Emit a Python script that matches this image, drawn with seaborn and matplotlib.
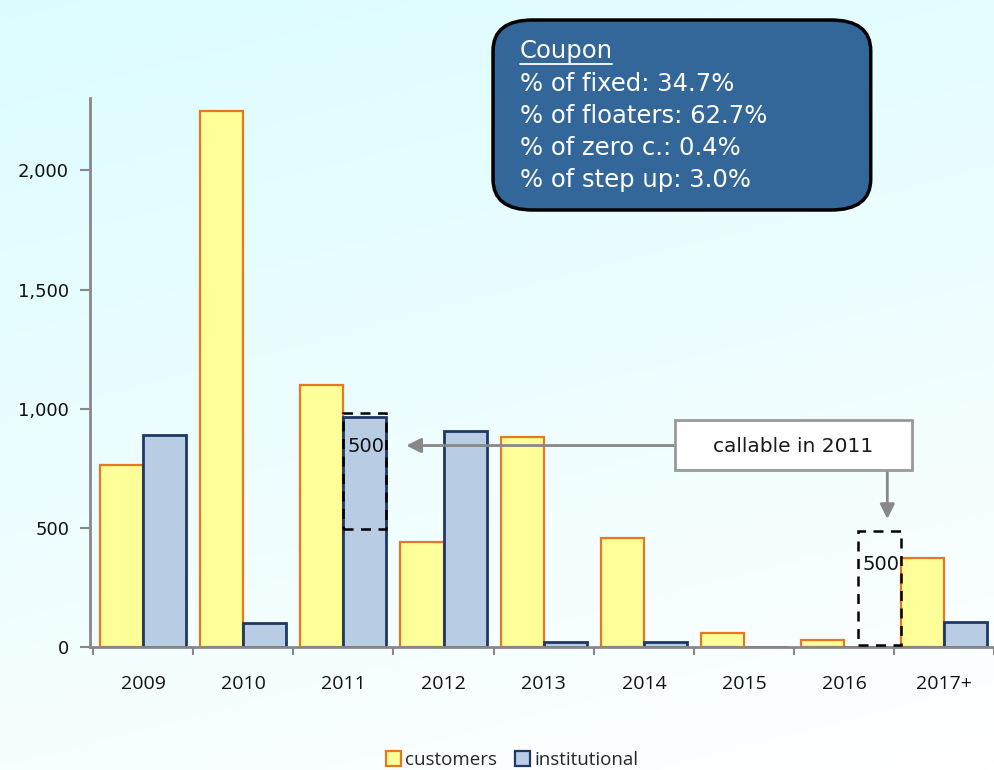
import numpy as np
import pandas as pd
import matplotlib.pyplot as plt
import seaborn as sns
from matplotlib.patches import FancyBboxPatch, Rectangle

years = ['2009', '2010', '2011', '2012', '2013', '2014', '2015', '2016', '2017+']
customers = [765, 2248, 1101, 441, 882, 458, 59, 29, 374]
institutional = [891, 101, 966, 908, 21, 21, 0, 0, 105]
coupon_lines = ['% of fixed: 34.7%', '% of floaters: 62.7%',
                '% of zero c.: 0.4%', '% of step up: 3.0%']

df = pd.DataFrame({
    'year': years * 2,
    'amount': customers + institutional,
    'type': ['customers'] * len(years) + ['institutional'] * len(years),
})

sns.set_style('white')
plt.rcParams['font.family'] = ['DejaVu Sans']

fig = plt.figure(figsize=(9.94, 7.7), dpi=100)

# light cyan -> white background gradient
bg = fig.add_axes([0, 0, 1, 1], zorder=-10)
yy, xx = np.mgrid[0:1:200j, 0:1:200j]
t = np.clip(0.75 * yy + 0.25 * (1 - xx), 0, 1)
top = np.array([0.86, 0.99, 1.0])
bot = np.array([1.0, 1.0, 1.0])
img = bot[None, None, :] * (1 - t[..., None]) + top[None, None, :] * t[..., None]
bg.imshow(img, origin='lower', aspect='auto', extent=[0, 1, 0, 1])
bg.axis('off')

ax = fig.add_axes([0.0905, 0.16, 0.91, 0.713])
ax.patch.set_alpha(0)
sns.barplot(data=df, x='year', y='amount', hue='type', ax=ax, width=0.86, saturation=1,
            palette={'customers': '#ffff99', 'institutional': '#b8cce4'},
            legend=False)
for bar, lab in zip(ax.patches, df['type']):
    if lab == 'customers':
        bar.set_edgecolor('#e8771f')
        bar.set_linewidth(1.6)
    else:
        bar.set_edgecolor('#1f3864')
        bar.set_linewidth(2.0)

ax.set_xlim(-0.53, len(years) - 0.53)
ax.set_ylim(0, 2305)
ax.set_yticks([0, 500, 1000, 1500, 2000])
ax.set_yticklabels(['0', '500', '1,000', '1,500', '2,000'], fontsize=13, color='#111111')
ax.set_xlabel('')
ax.set_ylabel('')
ax.set_xticks(range(len(years)))
ax.set_xticklabels(years, fontsize=14, family='Open Sans', color='#111111')
ax.tick_params(axis='x', which='major', length=0, pad=20)
ax.set_xticks(np.arange(-0.5, len(years)), minor=True)
ax.tick_params(axis='x', which='minor', bottom=True, length=6, width=1.5,
               color='#888888', direction='out')
ax.tick_params(axis='y', length=7, width=1.5, color='#888888', direction='out',
               left=True, pad=8)
for s in ['top', 'right']:
    ax.spines[s].set_visible(False)
for s in ['left', 'bottom']:
    ax.spines[s].set_color('#888888')
    ax.spines[s].set_linewidth(2)

# callable dashed boxes
ax.add_patch(Rectangle((2.0, 495), 0.43, 485, fill=False, ls=(0, (4, 3)), lw=1.8, ec='black', zorder=5))
ax.text(2.04, 840, '500', fontsize=14, va='center', ha='left', color='#111111', zorder=6)
ax.add_patch(Rectangle((7.14, 8), 0.43, 480, fill=False, ls=(0, (4, 3)), lw=1.8, ec='black', zorder=5))
ax.text(7.18, 345, '500', fontsize=14, va='center', ha='left', color='#111111', zorder=6)

# callout box + arrows
ax.annotate('', xy=(2.6, 845), xytext=(5.35, 845),
            arrowprops=dict(arrowstyle='-|>', color='#888888', lw=2, mutation_scale=22))
ax.annotate('', xy=(7.43, 525), xytext=(7.43, 745),
            arrowprops=dict(arrowstyle='-|>', color='#888888', lw=2, mutation_scale=22))
fig.patches.append(Rectangle((675 / 994, 1 - 470 / 770), 237 / 994, 50 / 770,
                             transform=fig.transFigure, fc='white', ec='#999999', lw=2, zorder=8))
fig.text(793 / 994, 1 - 446 / 770, 'callable in 2011', fontsize=14.5, ha='center',
         va='center', color='#1a1a1a', zorder=9)

# coupon box
box = FancyBboxPatch((0.496, 1 - 210 / 770), 0.38, 190 / 770,
                     boxstyle='round,pad=0,rounding_size=0.04', transform=fig.transFigure,
                     fc='#336699', ec='black', lw=2.5, zorder=10)
fig.patches.append(box)
fig.text(0.523, 1 - 51 / 770, 'Coupon', color='white', fontsize=17.5, va='center', zorder=11)
fig.add_artist(plt.Line2D([0.523, 0.616], [1 - 64 / 770, 1 - 64 / 770], color='white', lw=1.3,
                          transform=fig.transFigure, zorder=11))
for i, line in enumerate(coupon_lines):
    fig.text(0.523, 1 - (84 + 32 * i) / 770, line, color='white', fontsize=17.5,
             va='center', zorder=11)

# legend
handles = [Rectangle((0, 0), 1, 1, fc='#ffff99', ec='#e8771f', lw=1.6),
           Rectangle((0, 0), 1, 1, fc='#b8cce4', ec='#1f3864', lw=1.6)]
fig.legend(handles, ['customers', 'institutional'], loc='center',
           bbox_to_anchor=(0.515, 1 - 760 / 770),
           ncol=2, frameon=False, handlelength=0.8, handleheight=0.8, handletextpad=0.2,
           columnspacing=1.0, prop={'family': 'Open Sans', 'size': 13.5})

fig.savefig('out.png', dpi=100)
